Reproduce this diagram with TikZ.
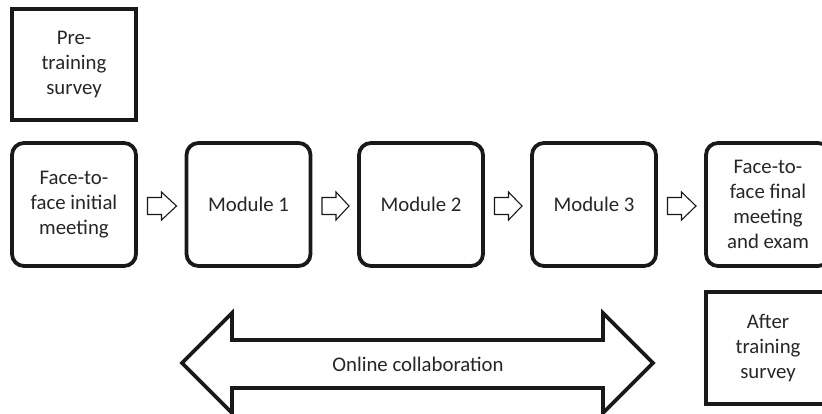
\documentclass[tikz,border=0pt]{standalone}
\usepackage{fontspec}
\setmainfont{Carlito}
\usetikzlibrary{calc}
\begin{document}
\begin{tikzpicture}[x=1pt,y=-1pt,
  lbl/.style={font=\fontsize{20.8}{25}\selectfont, align=center, text=black!85},
  stage/.style={draw=black!90, line width=3.8pt, rounded corners=12pt,
    minimum width=124pt, minimum height=123pt, inner sep=0pt, outer sep=0pt, lbl},
  survey/.style={draw=black!90, line width=3.8pt,
    minimum width=124pt, minimum height=111pt, inner sep=0pt, outer sep=0pt, lbl},
  flow/.style={draw=black!90, line width=1.1pt, fill=white, line join=miter},
  bigflow/.style={draw=black!90, line width=3.6pt, fill=white, line join=miter}
]
\useasboundingbox (0,0) rectangle (822,413);
\clip (0,0) rectangle (822,413);

% surveys before and after the course
\node[survey] (pre) at (74,64.5) {Pre-\\training\\survey};
\node[survey, minimum height=112pt] (post) at (768,348) {After\\training\\survey};

% course stages
\node[stage] (f2f) at (74,204.5) {Face-to-\\face initial\\meeting};
\node[stage] (m1) at (248.5,204.5) {Module 1};
\node[stage] (m2) at (421,204.5) {Module 2};
\node[stage] (m3) at (594,204.5) {Module 3};
\node[stage] (fin) at (768,204.5) {Face-to-\\face final\\meeting\\and exam};

% block arrows between the stages
\foreach \a/\b in {f2f/m1, m1/m2, m2/m3, m3/fin} {
  \draw[flow] ($(\a.east)+(11.5,-7)$) -- ++(14,0) -- ++(0,-5.5)
    -- ($(\b.west)+(-10,1.5)$) -- ($(\a.east)+(25.5,15.5)$) -- ++(0,-5.5)
    -- ($(\a.east)+(11.5,10)$) -- cycle;
}

% online collaboration spanning the modules
\draw[bigflow] (182,363) -- (232,313) -- (232,340) -- (603,340) -- (603,313)
  -- (653,363) -- (603,413) -- (603,388) -- (232,388) -- (232,413) -- cycle;
\node[lbl] (online) at (418,364) {Online collaboration};
\end{tikzpicture}
\end{document}
